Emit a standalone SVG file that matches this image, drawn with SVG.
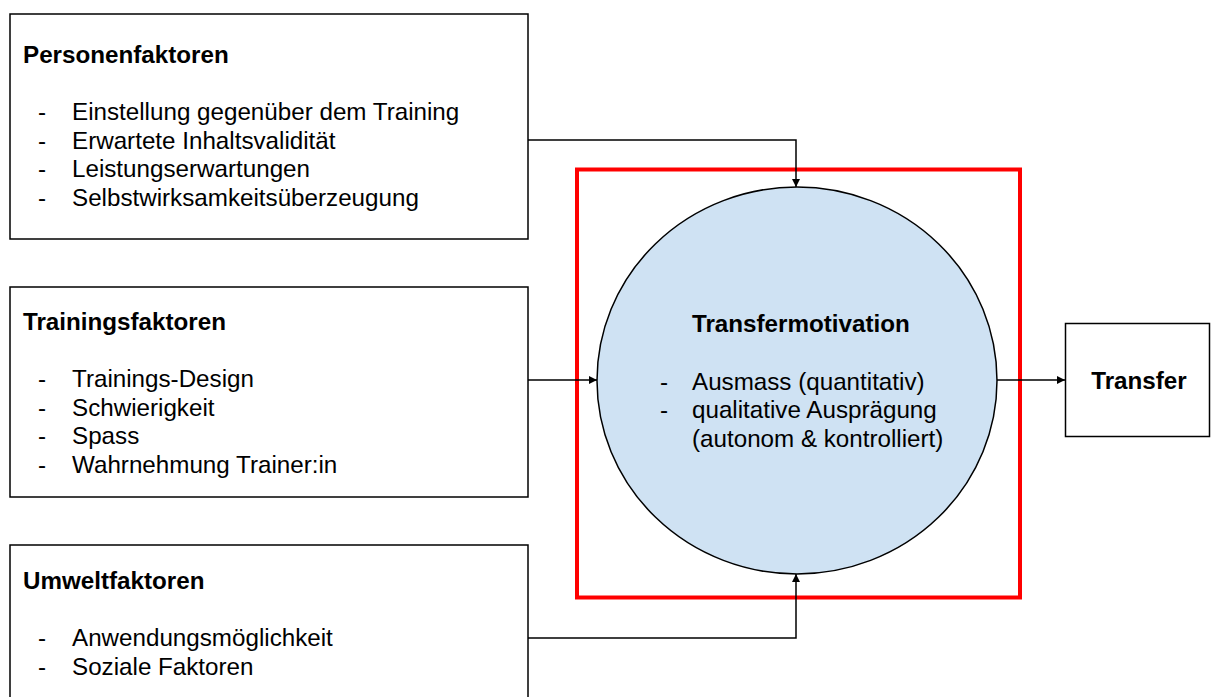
<svg xmlns="http://www.w3.org/2000/svg" width="1211" height="697" viewBox="0 0 1211 697">
<style>
text{font-family:"Liberation Sans",Arial,sans-serif;font-size:24.2px;fill:#000}
.b{font-weight:bold}
.box{fill:#fff;stroke:#000;stroke-width:1.5}
.con{fill:none;stroke:#000;stroke-width:1.5}
</style>
<defs>
<marker id="ah" viewBox="0 0 10 10" refX="10" refY="5" markerWidth="8" markerHeight="8" markerUnits="userSpaceOnUse" orient="auto">
<path d="M0,0 L10,5 L0,10 z" fill="#000"/>
</marker>
</defs>
<rect width="1211" height="697" fill="#fff"/>
<g id="frame">
<rect x="577" y="169.5" width="443" height="428" fill="none" stroke="#ff0000" stroke-width="4"/>
</g>
<g id="personenfaktoren">
<rect class="box" x="10" y="14" width="518" height="225"/>
<text class="b" x="23" y="63">Personenfaktoren</text>
<text x="38" y="120">-</text><text x="72" y="120">Einstellung gegenüber dem Training</text>
<text x="38" y="149">-</text><text x="72" y="149">Erwartete Inhaltsvalidität</text>
<text x="38" y="177">-</text><text x="72" y="177">Leistungserwartungen</text>
<text x="38" y="206">-</text><text x="72" y="206">Selbstwirksamkeitsüberzeugung</text>
</g>
<g id="trainingsfaktoren">
<rect class="box" x="10" y="287" width="518" height="210"/>
<text class="b" x="23" y="330">Trainingsfaktoren</text>
<text x="38" y="387">-</text><text x="72" y="387">Trainings-Design</text>
<text x="38" y="416">-</text><text x="72" y="416">Schwierigkeit</text>
<text x="38" y="444">-</text><text x="72" y="444">Spass</text>
<text x="38" y="473">-</text><text x="72" y="473">Wahrnehmung Trainer:in</text>
</g>
<g id="umweltfaktoren">
<rect class="box" x="10" y="545" width="518" height="170"/>
<text class="b" x="23" y="589">Umweltfaktoren</text>
<text x="38" y="646">-</text><text x="72" y="646">Anwendungsmöglichkeit</text>
<text x="38" y="675">-</text><text x="72" y="675">Soziale Faktoren</text>
</g>
<g id="transfermotivation">
<ellipse cx="797" cy="380.5" rx="200" ry="193.5" fill="#cfe2f3" stroke="#000" stroke-width="1.5"/>
<text class="b" x="692" y="332">Transfermotivation</text>
<text x="660" y="390">-</text><text x="692" y="390">Ausmass (quantitativ)</text>
<text x="660" y="418">-</text><text x="692" y="418">qualitative Ausprägung</text>
<text x="692" y="447">(autonom &amp; kontrolliert)</text>
</g>
<g id="transfer">
<rect class="box" x="1065.5" y="323.5" width="144" height="113"/>
<text class="b" x="1139" y="389" text-anchor="middle">Transfer</text>
</g>
<g id="connectors">
<path class="con" d="M528,140 H796 V187" marker-end="url(#ah)"/>
<path class="con" d="M528,380 H597" marker-end="url(#ah)"/>
<path class="con" d="M997,380 H1065" marker-end="url(#ah)"/>
<path class="con" d="M528,638 H796 V574" marker-end="url(#ah)"/>
</g>
</svg>
